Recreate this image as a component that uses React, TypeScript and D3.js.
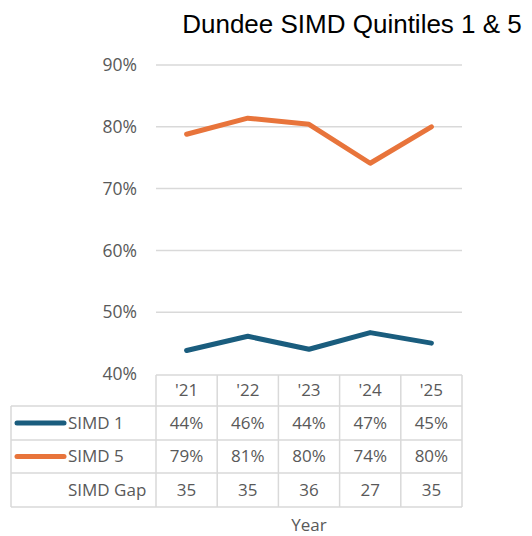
import React from "react";
import * as d3 from "d3";

const years = ["'21", "'22", "'23", "'24", "'25"];
const simd1 = [43.8, 46.1, 44.0, 46.7, 45.0];
const simd5 = [78.8, 81.4, 80.4, 74.1, 80.0];
const simdGap = [35, 35, 36, 27, 35];
const yTicks = [40, 50, 60, 70, 80, 90];
const seriesNames = ["SIMD 1", "SIMD 5"];
const colors = ["#1a5d7e", "#e8743b"];

export default function App() {
  const W = 532, H = 536;
  const plotLeft = 156, plotRight = 462;
  const x = d3.scaleBand<string>().domain(years).range([plotLeft, plotRight]);
  const y = d3.scaleLinear().domain([40, 90]).range([374, 65]);
  const line = d3
    .line<number>()
    .x((_, i) => (x(years[i]) as number) + x.bandwidth() / 2)
    .y((d) => y(d));

  const rowTops = [375, 406, 440, 473, 507];
  const tableLeft = 11;
  const grid = "#d9d9d9";
  const textCol = "#595959";
  const tblFont = "'Open Sans', Lato, sans-serif";
  const rows = [
    { name: seriesNames[0], color: colors[0], vals: simd1.map((v) => Math.round(v) + "%") },
    { name: seriesNames[1], color: colors[1], vals: simd5.map((v) => Math.round(v) + "%") },
    { name: "SIMD Gap", color: null, vals: simdGap.map(String) },
  ];

  return (
    <svg width={W} height={H} style={{ position: "absolute", left: 0, top: 0 }}>
      <rect width={W} height={H} fill="#fff" />
      <text x={352} y={33} textAnchor="middle" fontFamily="'Liberation Sans', Arial, sans-serif" fontSize={26} fill="#000">
        Dundee SIMD Quintiles 1 &amp; 5
      </text>
      {yTicks.map((t) => (
        <g key={t}>
          {t > 40 && <line x1={plotLeft} x2={plotRight} y1={y(t)} y2={y(t)} stroke={grid} strokeWidth={1.5} />}
          <text x={137} y={y(t)} dy="0.35em" textAnchor="end" fontFamily={tblFont} fontSize={17.5} fill={textCol}>
            {t}%
          </text>
        </g>
      ))}
      <path d={line(simd5) || ""} fill="none" stroke={colors[1]} strokeWidth={5} strokeLinecap="round" strokeLinejoin="round" />
      <path d={line(simd1) || ""} fill="none" stroke={colors[0]} strokeWidth={5} strokeLinecap="round" strokeLinejoin="round" />

      {/* table */}
      <g fill="none" stroke={grid} strokeWidth={1.5}>
        <line x1={plotLeft} x2={plotRight} y1={rowTops[0]} y2={rowTops[0]} />
        {rowTops.slice(1).map((r) => (
          <line key={r} x1={tableLeft} x2={plotRight} y1={r} y2={r} />
        ))}
        <line x1={tableLeft} x2={tableLeft} y1={rowTops[1]} y2={rowTops[4]} />
        {years.map((yr) => (
          <line key={yr} x1={x(yr)} x2={x(yr)} y1={rowTops[0]} y2={rowTops[4]} />
        ))}
        <line x1={plotRight} x2={plotRight} y1={rowTops[0]} y2={rowTops[4]} />
      </g>
      {years.map((yr) => (
        <text key={yr} x={(x(yr) as number) + x.bandwidth() / 2} y={(rowTops[0] + rowTops[1]) / 2} dy="0.35em" textAnchor="middle" fontFamily={tblFont} fontSize={17} fill={textCol}>
          {yr}
        </text>
      ))}
      {rows.map((r, ri) => {
        const cy = (rowTops[ri + 1] + rowTops[ri + 2]) / 2;
        return (
          <g key={r.name}>
            {r.color && <line x1={17} x2={64} y1={cy} y2={cy} stroke={r.color} strokeWidth={5} strokeLinecap="round" />}
            <text x={68} y={cy} dy="0.35em" fontFamily={tblFont} fontSize={17} fill={textCol}>
              {r.name}
            </text>
            {r.vals.map((v, i) => (
              <text key={i} x={(x(years[i]) as number) + x.bandwidth() / 2} y={cy} dy="0.35em" textAnchor="middle" fontFamily={tblFont} fontSize={17} fill={textCol}>
                {v}
              </text>
            ))}
          </g>
        );
      })}
      <text x={309} y={525} dy="0.35em" textAnchor="middle" fontFamily={tblFont} fontSize={17} fill={textCol}>
        Year
      </text>
    </svg>
  );
}
